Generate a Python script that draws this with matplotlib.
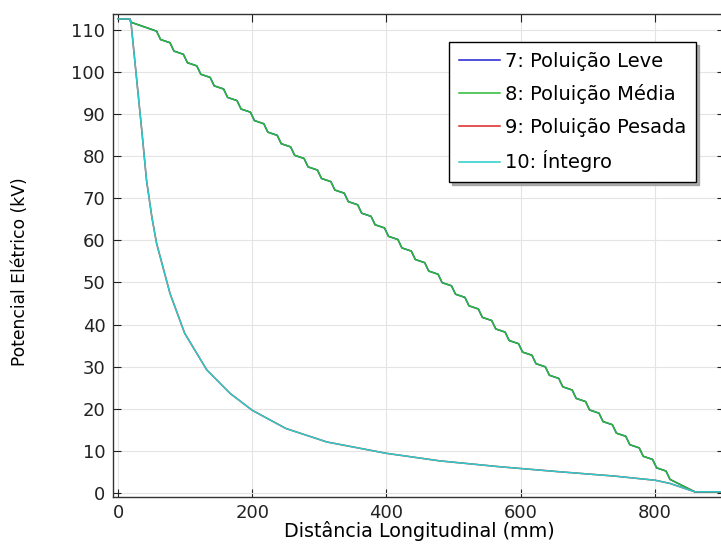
import matplotlib.pyplot as plt
import numpy as np

# distance along the insulator (mm) and electric potential (kV)
# 8: medium pollution (stepped profile, one step per shed)
x_media = [0, 17, 19, 57, 63, 77, 83, 97, 103, 117, 123, 137, 143, 157, 163,
           177, 183, 197, 203, 217, 223, 237, 243, 257, 263, 277, 283, 297, 303,
           317, 323, 337, 343, 357, 363, 377, 383, 397, 403, 417, 423, 437, 443,
           457, 463, 477, 483, 497, 503, 517, 523, 537, 543, 557, 563, 577, 583,
           597, 603, 617, 623, 637, 643, 657, 663, 677, 683, 697, 703, 717, 723,
           737, 743, 757, 763, 777, 783, 797, 803, 817, 823, 860, 905]
v_media = [112.6, 112.6, 111.8, 109.7, 107.7, 106.95, 104.95, 104.2, 102.2,
           101.45, 99.45, 98.7, 96.7, 95.95, 93.95, 93.2, 91.2, 90.45, 88.45,
           87.7, 85.7, 84.95, 82.95, 82.2, 80.2, 79.45, 77.45, 76.7, 74.7,
           73.95, 71.95, 71.2, 69.2, 68.45, 66.45, 65.7, 63.7, 62.95, 60.95,
           60.2, 58.2, 57.45, 55.45, 54.7, 52.7, 51.95, 49.95, 49.2, 47.2,
           46.45, 44.45, 43.7, 41.7, 40.95, 38.95, 38.2, 36.2, 35.45, 33.45,
           32.7, 30.7, 29.95, 27.95, 27.2, 25.2, 24.45, 22.45, 21.7, 19.7,
           18.95, 16.95, 16.2, 14.2, 13.45, 11.45, 10.7, 8.7, 7.95, 5.95,
           5.2, 3.2, 0.26, 0.26]

# 10: intact insulator
x_integro = [0, 17, 19, 35, 42, 50, 57, 77, 99, 132, 167, 200, 250, 311, 400,
             480, 570, 660, 740, 801, 823, 860, 905]
v_integro = [112.6, 112.6, 111.5, 86.0, 74.3, 65.5, 59.3, 47.4, 37.9, 29.2,
             23.6, 19.6, 15.3, 12.1, 9.4, 7.6, 6.2, 5.0, 4.0, 3.0, 2.25, 0.26,
             0.26]

# 7 and 9 lie under 8 and 10 respectively
x_leve, v_leve = x_media, v_media
x_pesada, v_pesada = x_integro, v_integro

labels = ['7: Poluição Leve', '8: Poluição Média', '9: Poluição Pesada', '10: Íntegro']
colors = ['#1f1fd0', '#2bbb33', '#dd2222', '#28cccc']

plt.rcParams['font.family'] = 'DejaVu Sans'

fig = plt.figure(figsize=(7.21, 5.44), dpi=100)
ax = fig.add_axes([113/721, 1-496.7/544, (725-113)/721, (496.7-14.3)/544])

ax.plot(x_leve, v_leve, color=colors[0], lw=1.1, label=labels[0])
ax.plot(x_media, v_media, color=colors[1], lw=1.1, label=labels[1])
ax.plot(x_pesada, v_pesada, color=colors[2], lw=1.1, label=labels[2])
ax.plot(x_integro, v_integro, color=colors[3], lw=1.1, label=labels[3])

ax.set_xlim(-8, 905)
ax.set_ylim(-0.9, 113.7)
ax.set_xticks(np.arange(0, 801, 200))
ax.set_yticks(np.arange(0, 111, 10))
ax.grid(True, color='#e4e4e4', lw=0.8)
ax.set_axisbelow(True)

ax.tick_params(direction='in', length=5.5, width=0.8, top=True, right=True,
               labelsize=13, pad=5.5, colors='#222222')
for s in ax.spines.values():
    s.set_color('#333333')
    s.set_linewidth(1.0)

ax.set_xlabel('Distância Longitudinal (mm)', fontsize=13.8)
ax.set_ylabel('Potencial Elétrico (kV)', fontsize=12.3)
ax.xaxis.set_label_coords(0.5, -0.05)
ax.yaxis.set_label_coords(-0.138, 0.466)

leg = ax.legend(loc='upper left', bbox_to_anchor=(0.549, 0.943), borderaxespad=0,
                fontsize=14, handlelength=2.1, handletextpad=0.3, labelspacing=0.7,
                borderpad=0.5, fancybox=False,
                shadow={'color': '#999999', 'alpha': 0.8},
                framealpha=1, edgecolor='black')
leg.get_frame().set_linewidth(1.0)

fig.savefig('out.png', dpi=100)
